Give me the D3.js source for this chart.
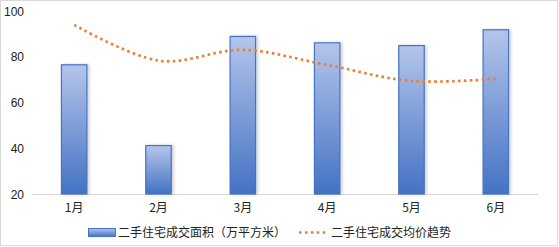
<!DOCTYPE html>
<html><head><meta charset="utf-8">
<script src="https://cdn.jsdelivr.net/npm/d3@7/dist/d3.min.js"></script>
<style>
html,body{margin:0;padding:0;background:#fff;}
svg{display:block;}
text{font-family:"Noto Sans CJK SC","Noto Sans",sans-serif;fill:#222;}
</style></head>
<body><svg id="c" width="559" height="247"></svg>
<script>
const categories = ["1月","2月","3月","4月","5月","6月"];
const areaValues = [76.7, 41.4, 89.1, 86.3, 85.1, 92.0];
const priceTrend = [93.9, 78.3, 83.0, 76.4, 69.4, 70.4];
const yTicks = [20, 40, 60, 80, 100];
const seriesNames = ["二手住宅成交面积（万平方米）", "二手住宅成交均价趋势"];

const svg = d3.select("#c");
const W = 559, H = 247;
svg.append("rect").attr("x",0.5).attr("y",0.5).attr("width",W-2).attr("height",H-2)
  .attr("fill","#fff").attr("stroke","#d9d9d9");

const defs = svg.append("defs");
const g = defs.append("linearGradient").attr("id","bg").attr("x1",0).attr("y1",0).attr("x2",0).attr("y2",1);
g.append("stop").attr("offset","0%").attr("stop-color","#b4c5ea");
g.append("stop").attr("offset","100%").attr("stop-color","#4472c4");
const lg = defs.append("linearGradient").attr("id","lg").attr("x1",0).attr("y1",0).attr("x2",0).attr("y2",1);
lg.append("stop").attr("offset","0%").attr("stop-color","#b4c5ea");
lg.append("stop").attr("offset","100%").attr("stop-color","#4472c4");
const f = defs.append("filter").attr("id","sh").attr("x","-50%").attr("y","-10%").attr("width","200%").attr("height","120%");
f.append("feGaussianBlur").attr("in","SourceAlpha").attr("stdDeviation",1.5).attr("result","b");
f.append("feOffset").attr("in","b").attr("dx",2).attr("dy",0).attr("result","o");
f.append("feComponentTransfer").attr("in","o").attr("result","o2")
  .append("feFuncA").attr("type","linear").attr("slope",0.18);
const fm = f.append("feMerge");
fm.append("feMergeNode").attr("in","o2");
fm.append("feMergeNode").attr("in","SourceGraphic");

const x = d3.scaleBand().domain(categories).range([32, 538]).paddingInner(0.686).paddingOuter(0.343);
const y = d3.scaleLinear().domain([20, 100]).range([194, 11]);

// baseline
svg.append("line").attr("x1",32).attr("x2",538).attr("y1",y(20)+0.5).attr("y2",y(20)+0.5)
  .attr("stroke","#d9d9d9").attr("stroke-width",1);

// y axis labels
const yAxis = d3.axisLeft(y).tickValues(yTicks).tickSize(0).tickPadding(0);
const ya = svg.append("g").attr("transform","translate(24,0)").call(yAxis);
ya.select(".domain").remove();
ya.selectAll("text").attr("font-size",12).attr("fill","#222")
  .style("font-family","'Liberation Sans',Arial,sans-serif").attr("dy","0.35em");

// x axis labels
const xAxis = d3.axisBottom(x).tickSize(0).tickPadding(0);
const xa = svg.append("g").attr("transform","translate(0,203)").call(xAxis);
xa.select(".domain").remove();
xa.selectAll("text").attr("font-size",12).attr("fill","#222").attr("dy","0.71em");

// bars
svg.append("g").selectAll("rect").data(areaValues).join("rect")
  .attr("x",(d,i)=>x(categories[i])+0.5)
  .attr("y",d=>y(d)+0.5)
  .attr("width",x.bandwidth()-1)
  .attr("height",d=>y(20)-y(d)-0.5)
  .attr("fill","url(#bg)").attr("stroke","#4472c4").attr("stroke-width",1.2)
  .attr("filter","url(#sh)");

// trend line
const line = d3.line().x((d,i)=>x(categories[i])+x.bandwidth()/2).y(d=>y(d))
  .curve(d3.curveCatmullRom.alpha(0));
svg.append("path").datum(priceTrend).attr("d",line).attr("fill","none")
  .attr("stroke","#ed7d31").attr("stroke-width",2.6).attr("stroke-dasharray","2.6 3.3");

// legend
const leg = svg.append("g");
leg.append("rect").attr("x",88.5).attr("y",228.5).attr("width",27).attr("height",8)
  .attr("fill","url(#lg)").attr("stroke","#4472c4");
leg.append("text").attr("x",118).attr("y",232.5).attr("dy","0.35em").attr("font-size",12).text(seriesNames[0]);
leg.append("line").attr("x1",299).attr("x2",327).attr("y1",232.5).attr("y2",232.5)
  .attr("stroke","#ed7d31").attr("stroke-width",2.6).attr("stroke-dasharray","2.6 3.3");
leg.append("text").attr("x",331).attr("y",232.5).attr("dy","0.35em").attr("font-size",12).text(seriesNames[1]);
</script></body></html>
